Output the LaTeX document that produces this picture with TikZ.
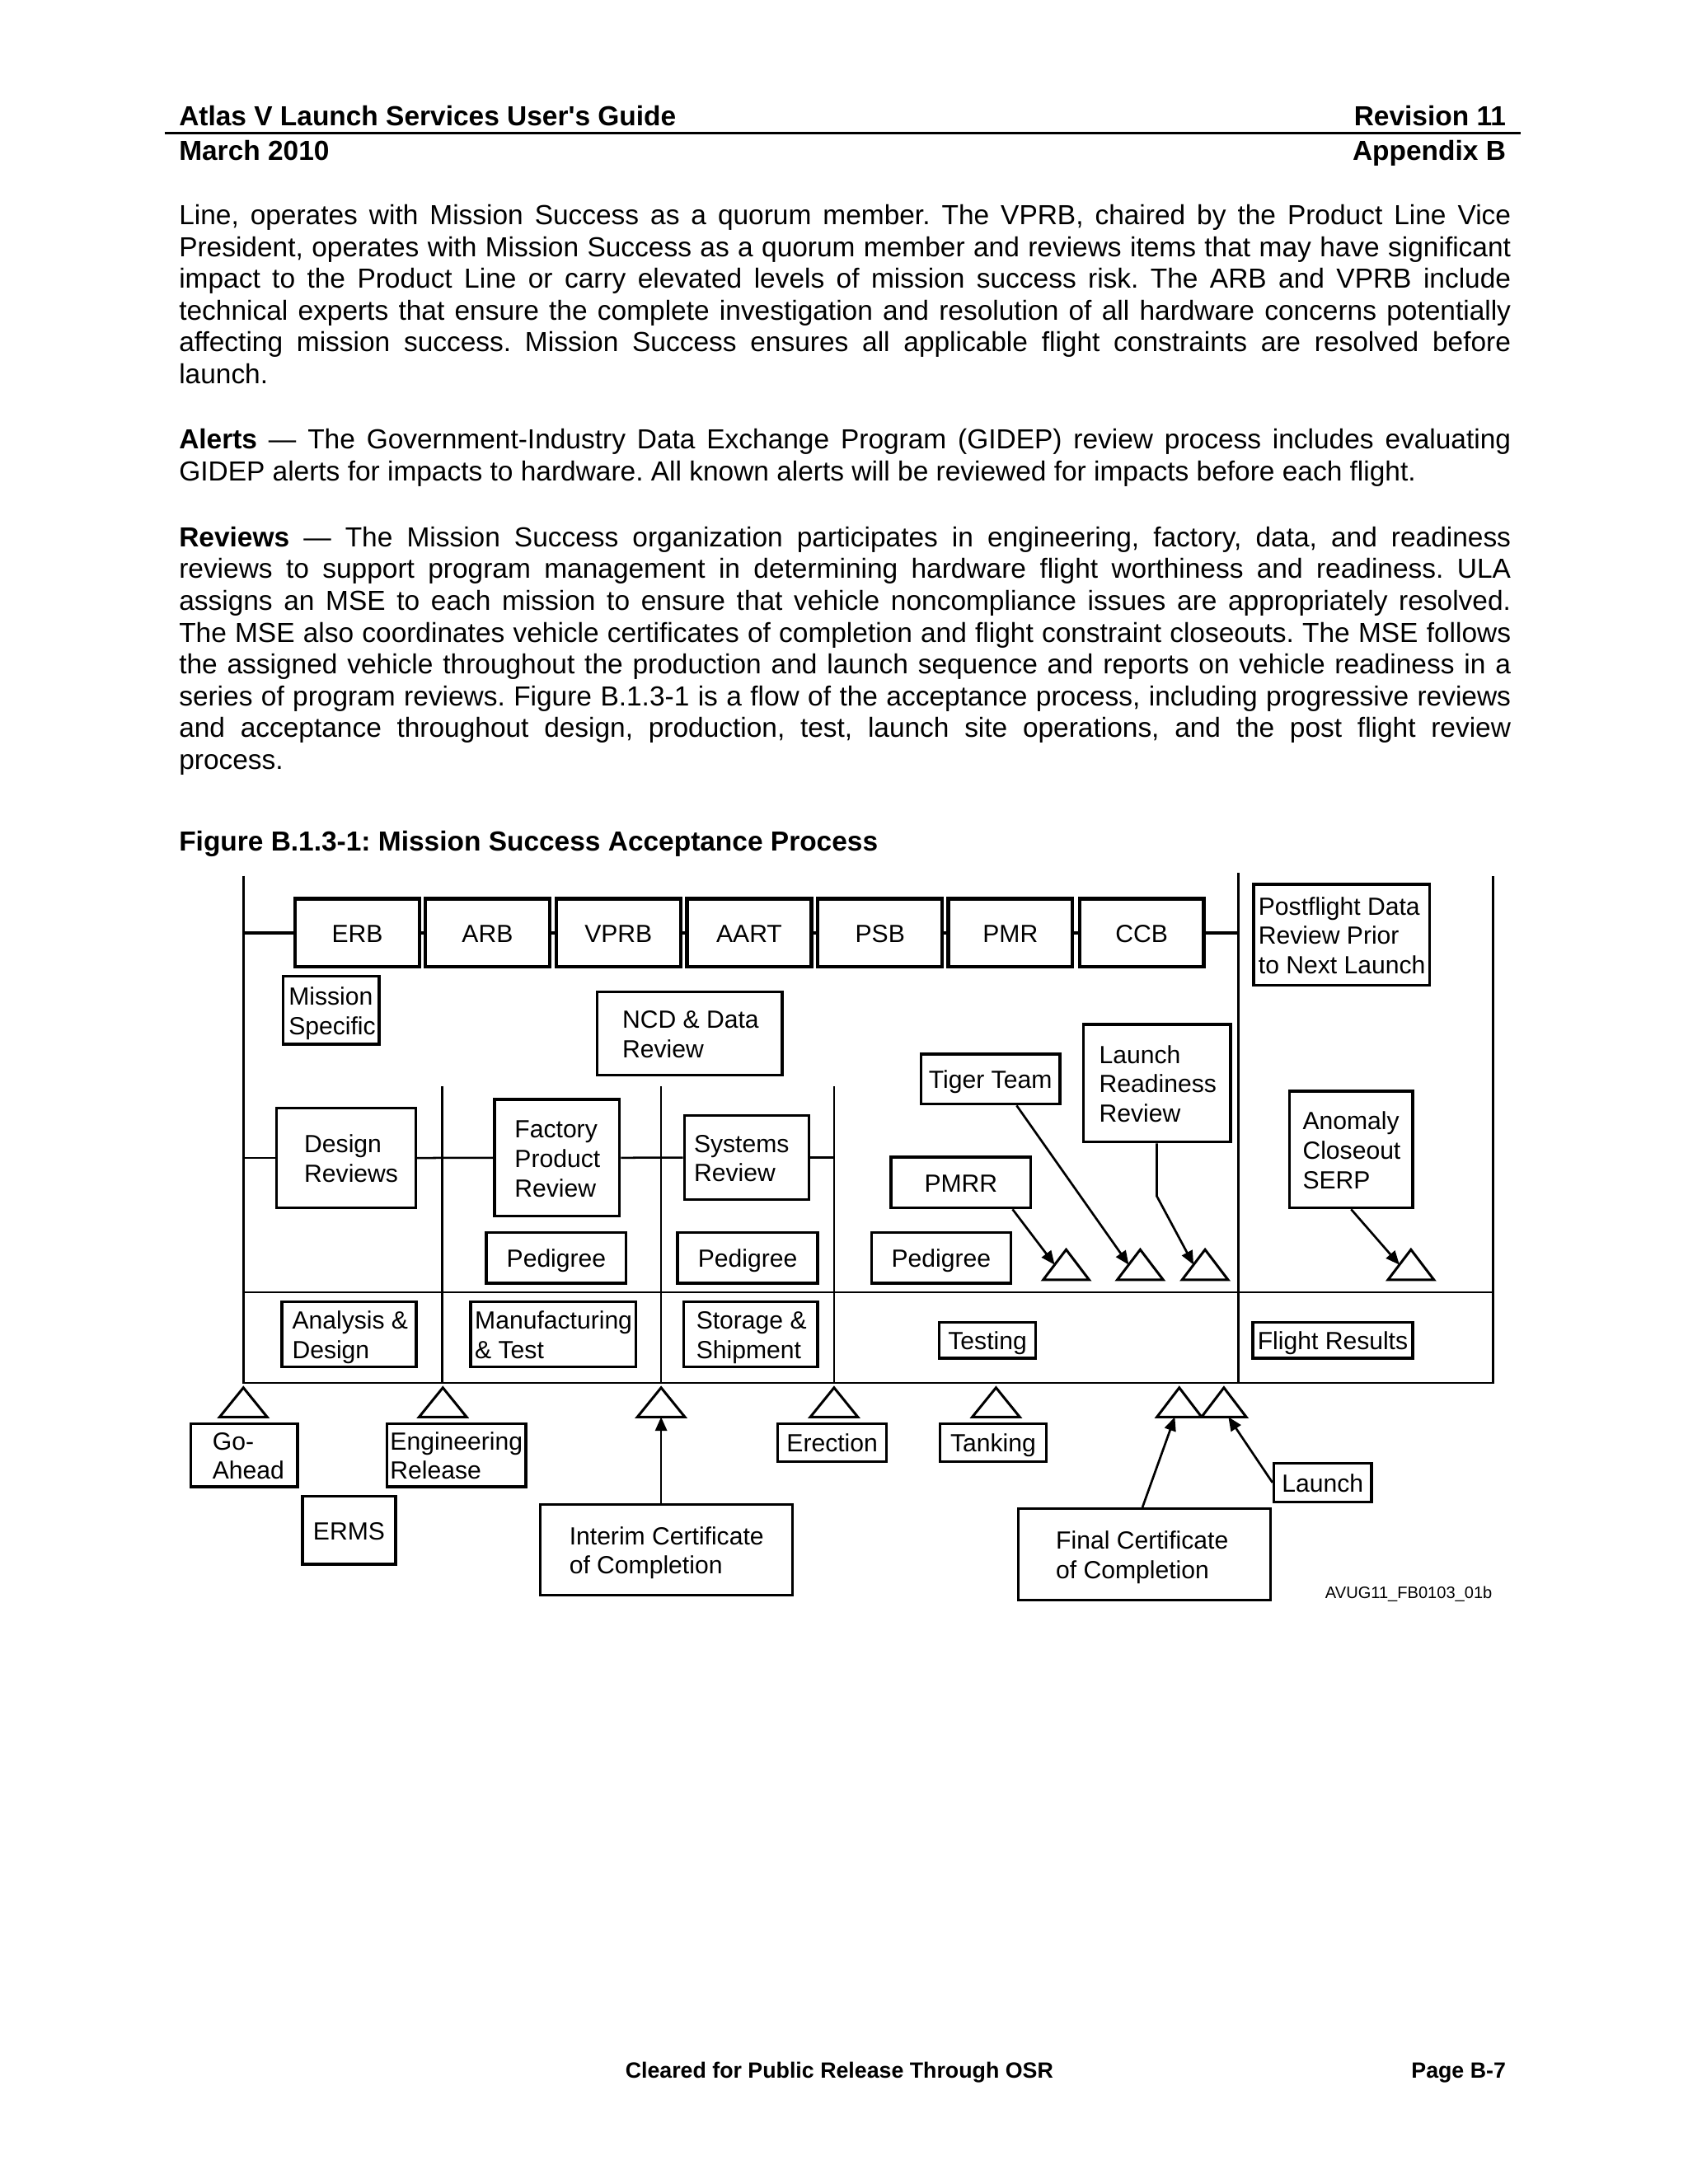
\documentclass[tikz,border=0pt]{standalone}
\usepackage{fontspec}
\setmainfont{Liberation Sans}
\usetikzlibrary{arrows.meta,calc}
\frenchspacing
\newcommand\bodyj[3]{\node[body] (#1) at (128,#2) {\makebox[483pt][s]{#3}};}
\newcommand\bodyl[3]{\node[body] (#1) at (128,#2) {#3};}
\newcommand\dbox[8][l]{%
  \pgfmathsetlengthmacro\dbW{(#5-#3)*0.5058}%
  \pgfmathsetlengthmacro\dbH{(#6-#4)*0.5058}%
  \pgfmathsetlengthmacro\dbP{#7*0.5058}%
  \pgfmathsetlengthmacro\dbT{(#5-#3-2*#7)*0.5058}%
  \node[dbox,minimum width=\dbW,minimum height=\dbH,inner xsep=\dbP] (#2) at ({(#3+#5)/2},{(#4+#6)/2})
    {\raisebox{-1.3pt}[\height][\depth]{\makebox[\dbT][#1]{\begin{tabular}{@{}#1@{}}#8\end{tabular}}}};}
\newcommand\tri[5]{%
  \draw[tri] (#2,#3) coordinate (#1) -- ({#2-#5},#4) coordinate (#1l) -- ({#2+#5},#4) coordinate (#1r) -- cycle;
  \coordinate (#1b) at (#2,#4);}
\begin{document}
\begin{tikzpicture}[x=0.5058pt,y=-0.5058pt,
  body/.style={anchor=base west,inner sep=0pt,font=\fontsize{10}{11.5}\selectfont},
  dbox/.style={draw,line width=1pt,inner ysep=0pt,font=\fontsize{9}{10.7}\selectfont},
  frame/.style={line width=0.75pt},
  thick frame/.style={line width=1.3pt},
  arr/.style={line width=0.8pt,-{Triangle[length=5pt,width=4.2pt]}},
  tri/.style={line width=0.9pt,fill=white,line join=miter}]
\useasboundingbox (0,0) rectangle (1210,1566);

% ---------- header ----------
\node[anchor=base west,inner sep=0pt,font=\fontsize{10}{12}\selectfont\bfseries] (h1) at (128,90) {Atlas V Launch Services User{\addfontfeatures{Ligatures=TeXOff}'}s Guide};
\node[anchor=base east,inner sep=0pt,font=\fontsize{10}{12}\selectfont\bfseries] (h2) at (1080,90) {Revision 11};
\node[anchor=base west,inner sep=0pt,font=\fontsize{10}{12}\selectfont\bfseries] (h3) at (128,115) {March 2010};
\node[anchor=base east,inner sep=0pt,font=\fontsize{10}{12}\selectfont\bfseries] (h4) at (1080,115) {Appendix B};
\coordinate (rl) at (118,95.5);
\coordinate (rr) at (1090,95.5);
\draw[line width=0.8pt] (rl) -- (rr);

% ---------- body text ----------
\bodyj{p1a}{161}{Line, operates with Mission Success as a quorum member. The VPRB, chaired by the Product Line Vice}
\bodyj{p1b}{183.8}{President, operates with Mission Success as a quorum member and reviews items that may have significant}
\bodyj{p1c}{206.6}{impact to the Product Line or carry elevated levels of mission success risk. The ARB and VPRB include}
\bodyj{p1d}{229.4}{technical experts that ensure the complete investigation and resolution of all hardware concerns potentially}
\bodyj{p1e}{252.2}{affecting mission success. Mission Success ensures all applicable flight constraints are resolved before}
\bodyl{p1f}{275}{launch.}

\bodyj{p2a}{322}{\textbf{Alerts} — The Government-Industry Data Exchange Program (GIDEP) review process includes evaluating}
\bodyl{p2b}{344.8}{GIDEP alerts for impacts to hardware. All known alerts will be reviewed for impacts before each flight.}

\bodyj{p3a}{392}{\textbf{Reviews} — The Mission Success organization participates in engineering, factory, data, and readiness}
\bodyj{p3b}{414.8}{reviews to support program management in determining hardware flight worthiness and readiness. ULA}
\bodyj{p3c}{437.6}{assigns an MSE to each mission to ensure that vehicle noncompliance issues are appropriately resolved.}
\bodyj{p3d}{460.4}{The MSE also coordinates vehicle certificates of completion and flight constraint closeouts. The MSE follows}
\bodyj{p3e}{483.2}{the assigned vehicle throughout the production and launch sequence and reports on vehicle readiness in a}
\bodyj{p3f}{506}{series of program reviews. Figure B.1.3-1 is a flow of the acceptance process, including progressive reviews}
\bodyj{p3g}{528.8}{and acceptance throughout design, production, test, launch site operations, and the post flight review}
\bodyl{p3h}{551.6}{process.}

\node[anchor=base west,inner sep=0pt,font=\fontsize{10}{12}\selectfont\bfseries] (ftitle) at (128,610) {Figure B.1.3-1: Mission Success Acceptance Process};

% ---------- frame ----------
\coordinate (ll) at (174.5,628);
\coordinate (vl) at (888,626);
\coordinate (rv) at (1070.5,628);
\coordinate (d1) at (317,779);
\coordinate (d2) at (474,779);
\coordinate (d3) at (598,779);
\draw[frame] (ll) -- (174.5,991.5) -- (1070.5,991.5) -- (rv);
\draw[frame] (vl) -- (888,991.5);
\draw[frame] (174.5,926.5) -- (1070.5,926.5);
\draw[frame] (d1) -- (317,991.5);
\draw[frame] (d2) -- (474,991.5);
\draw[frame] (d3) -- (598,991.5);

% ---------- top row ----------
\begin{scope}[dbox/.append style={line width=1.3pt}]
\dbox[c]{erb}{211.7}{644.4}{300.7}{693.2}{3}{ERB}
\dbox[c]{arb}{304.9}{644.4}{394.1}{693.2}{3}{ARB}
\dbox[c]{vprb}{398.7}{644.4}{488}{693.2}{3}{VPRB}
\dbox[c]{aart}{492.5}{644.4}{581.8}{693.2}{3}{AART}
\dbox[c]{psb}{586.3}{644.4}{675.6}{693.2}{3}{PSB}
\dbox[c]{pmr}{679.9}{644.4}{768.9}{693.2}{3}{PMR}
\dbox[c]{ccb}{774}{644.4}{863}{693.2}{3}{CCB}
\end{scope}
\draw[thick frame] (ll |- erb.west) -- (erb.west);
\draw[thick frame] (erb.east) -- (arb.west);
\draw[thick frame] (arb.east) -- (vprb.west);
\draw[thick frame] (vprb.east) -- (aart.west);
\draw[thick frame] (aart.east) -- (psb.west);
\draw[thick frame] (psb.east) -- (pmr.west);
\draw[thick frame] (pmr.east) -- (ccb.west);
\draw[thick frame] (ccb.east) -- (ccb.east -| vl);

\dbox{post}{898.8}{634}{1025}{706.6}{3.5}{Postflight Data\\Review Prior\\to Next Launch}
\dbox{miss}{203}{700}{271.9}{748.7}{4}{Mission\\Specific}
\dbox{ncd}{428.2}{711}{560.7}{771}{18}{NCD \& Data\\Review}

% ---------- review row ----------
\dbox{design}{198.2}{794.5}{298.1}{866.1}{20}{Design\\Reviews}
\dbox{factory}{354.5}{788.3}{444.2}{872}{14.5}{Factory\\Product\\Review}
\dbox{systems}{490.6}{800}{580}{860}{7}{Systems\\Review}
\draw[frame] (ll |- design.west) -- (design.west);
\draw[frame] (design.east) -- (factory.west);
\draw[frame] (factory.east) -- (systems.west);
\draw[frame] (systems.east) -- (systems.east -| d3);

\dbox[c]{tiger}{660.3}{755.8}{759.9}{791.7}{2}{Tiger Team}
\dbox{lrr}{776.6}{734.6}{882.2}{818.9}{11.5}{Launch\\Readiness\\Review}
\dbox[c]{pmrr}{638.8}{829.7}{739.1}{866.1}{3}{PMRR}
\dbox{anom}{924.5}{782.4}{1012.9}{866.1}{9.5}{Anomaly\\Closeout\\SERP}

\dbox[c]{ped1}{348.7}{883.7}{449}{920}{3}{Pedigree}
\dbox[c]{ped2}{485.8}{883.7}{586.3}{920}{3}{Pedigree}
\dbox[c]{ped3}{624.8}{883.7}{724.7}{920}{3}{Pedigree}

\tri{ta}{764.4}{896}{917.7}{16.5}
\tri{tb}{817.5}{896}{917.7}{16.5}
\tri{tc}{864}{896}{917.7}{16.5}
\tri{td}{1011.6}{896}{917.7}{16.5}

\coordinate (lrrk) at (830.3,857.7);
\draw[arr] ($(pmrr.south west)!0.862!(pmrr.south east)$) -- ($(ta)!0.5!(tal)$);
\draw[arr] ($(tiger.south west)!0.685!(tiger.south east)$) -- ($(tb)!0.5!(tbl)$);
\draw[arr] (lrr.south) -- (lrr.south |- lrrk) -- ($(tc)!0.5!(tcl)$);
\draw[arr] (anom.south) -- ($(td)!0.5!(tdl)$);

% ---------- phase row ----------
\dbox{anal}{202}{933.5}{298.4}{980.1}{7.5}{Analysis \&\\Design}
\dbox{manu}{337.5}{933.5}{456}{980.1}{3}{Manufacturing\\\& Test}
\dbox{stor}{490.2}{933.5}{586.3}{980.1}{9}{Storage \&\\Shipment}
\dbox[c]{test}{673.4}{948.2}{742.6}{973.9}{2}{Testing}
\dbox[c]{flight}{898.2}{948.2}{1012.9}{973.9}{2}{Flight Results}

% ---------- milestones ----------
\tri{m1}{174.5}{995}{1016}{17}
\tri{m2}{317.5}{995}{1016}{17}
\tri{m3}{474}{995}{1016}{17}
\tri{m4}{598}{995}{1016}{17}
\tri{m5}{714.1}{995}{1016}{17}
\tri{m6}{845.5}{995}{1016}{16}
\tri{m7}{877.5}{995}{1016}{16}

\dbox{go}{136.7}{1020.7}{213.3}{1066}{15.7}{Go-\\Ahead}
\dbox{eng}{277.3}{1020.7}{377}{1066}{2.5}{Engineering\\Release}
\dbox[c]{erms}{216.8}{1073}{283.7}{1121.5}{3}{ERMS}
\dbox{interim}{387.2}{1078.6}{568}{1143.8}{21}{Interim Certificate\\of Completion}
\dbox[c]{erect}{557.7}{1020.7}{635.6}{1048}{2}{Erection}
\dbox[c]{tank}{674.1}{1020.7}{750}{1048}{2}{Tanking}
\dbox[c]{launch}{913.3}{1049.3}{983.4}{1076.8}{2}{Launch}
\dbox{final}{730.1}{1081.8}{911}{1147.2}{27}{Final Certificate\\of Completion}

\draw[arr] (interim.north -| m3b) -- (m3b);
\draw[arr] ($(final.north west)!0.492!(final.north east)$) -- ($(m6l)!0.4!(m6r)$);
\draw[arr] (launch.west) -- ($(m7l)!0.6!(m7r)$);

\node[anchor=base east,inner sep=0pt,font=\fontsize{6}{7}\selectfont] (code) at (1070.2,1146) {AVUG11\_FB0103\_01b};

% ---------- footer ----------
\node[anchor=base west,inner sep=0pt,font=\fontsize{8}{10}\selectfont\bfseries] (f1) at (448,1490) {Cleared for Public Release Through OSR};
\node[anchor=base east,inner sep=0pt,font=\fontsize{8}{10}\selectfont\bfseries] (f2) at (1080,1490) {Page B-7};
\end{tikzpicture}
\end{document}
